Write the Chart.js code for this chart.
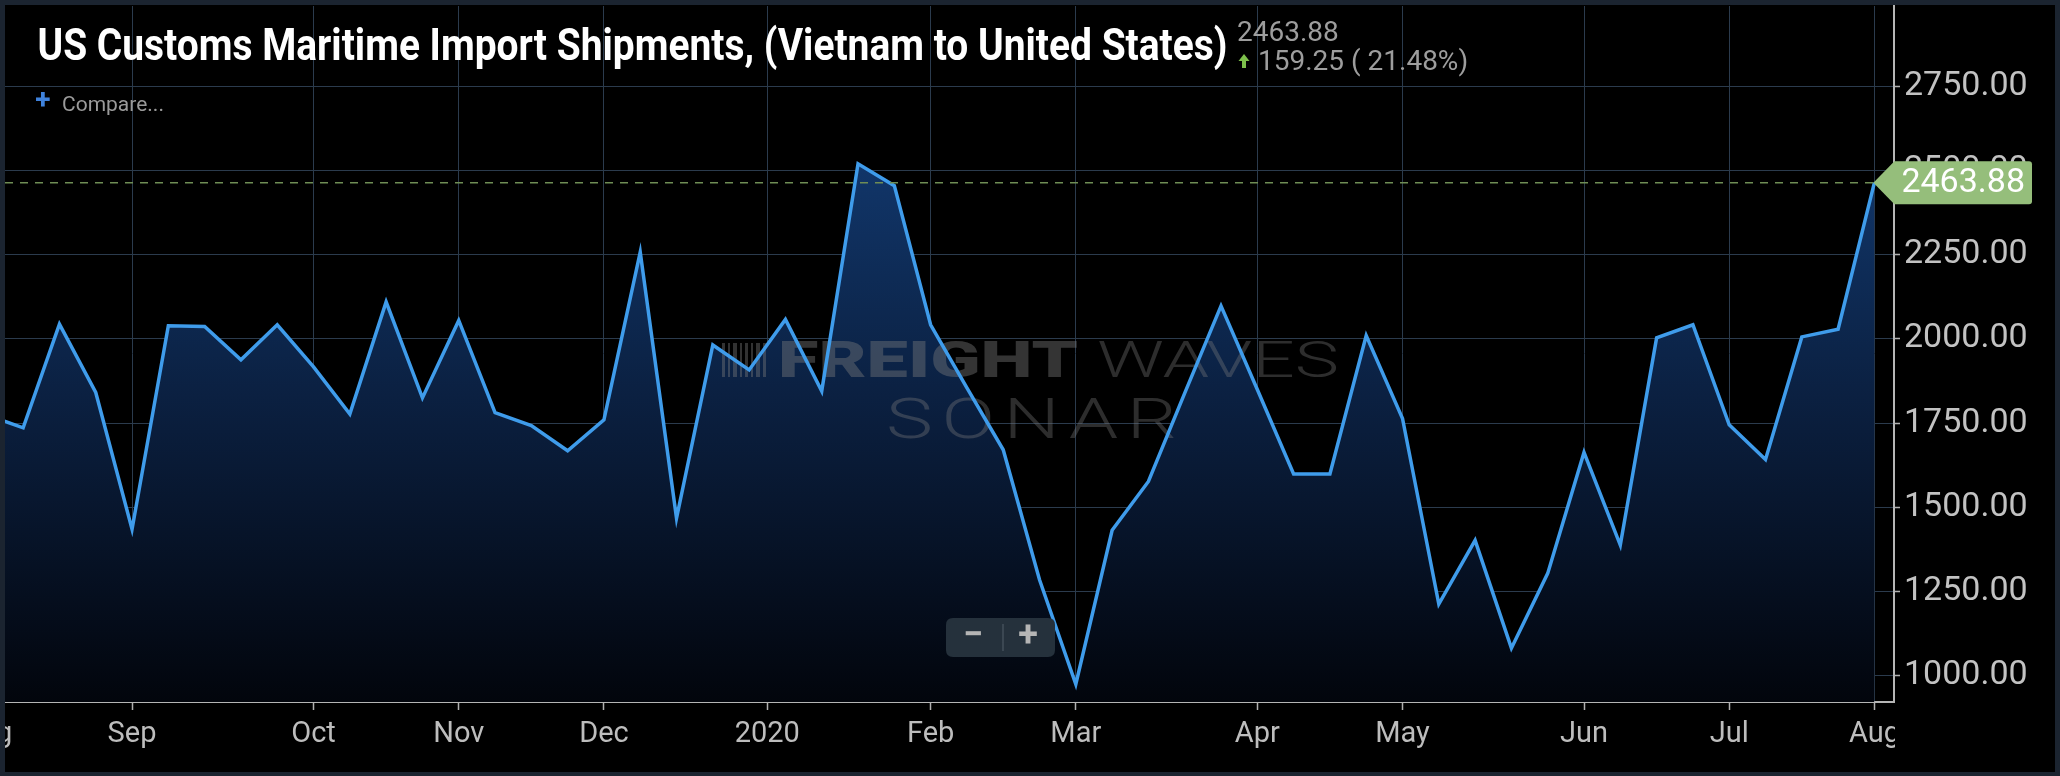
<!DOCTYPE html>
<html><head><meta charset="utf-8">
<script src="https://cdn.jsdelivr.net/npm/chart.js@4.4.0/dist/chart.umd.min.js"></script>
<style>
html,body{margin:0;padding:0;background:#1b2430;width:2060px;height:776px;overflow:hidden}
#panel{position:absolute;left:5px;top:5px;width:2050px;height:767px;background:#000}
canvas{display:block}
</style></head><body>
<div id="panel"><canvas id="c" width="2050" height="767"></canvas></div>
<script>
// ---- data ----
const weekIndex = [-1,0,1,2,3,4,5,6,7,8,9,10,11,12,13,14,15,16,17,18,19,20,21,22,23,24,25,26,27,28,29,30,31,32,33,34,35,36,37,38,39,40,41,42,43,44,45,46,47,48,49,50,51];
const shipments = [1774,1736,2044,1841,1435,2039,2037,1938,2042,1917,1777,2110,1825,2055,1781,1743,1668,1760,2258,1468,1982,1908,2058,1845,2520,2455,2042,1855,1671,1285,975,1432,1577,1839,2098,1850,1599,1599,2010,1764,1213,1402,1082,1304,1663,1388,2003,2042,1745,1642,2006,2029,2463.88];
const monthTickPos = [-1,3,8,12,16,20.5,25,29,34,38,43,47,51];
const monthTickLabels = ['Aug','Sep','Oct','Nov','Dec','2020','Feb','Mar','Apr','May','Jun','Jul','Aug'];
const yTicks = [1000,1250,1500,1750,2000,2250,2500,2750];
const titleText = 'US Customs Maritime Import Shipments, (Vietnam to United States)';
const lastValueText = '2463.88';
const changeText = '159.25 ( 21.48%)';

const points = weekIndex.map((w,i)=>({x:w, y:shipments[i]}));
const lastIdx = weekIndex[weekIndex.length-1];
const lastVal = shipments[shipments.length-1];

function fitText(ctx, txt, x, y, w){
  const m = ctx.measureText(txt).width;
  ctx.save(); ctx.translate(x,y); ctx.scale(w/m,1); ctx.fillText(txt,0,0); ctx.restore();
}
function rr(ctx,x,y,w,h,r){
  ctx.beginPath();ctx.moveTo(x+r,y);ctx.lineTo(x+w-r,y);ctx.quadraticCurveTo(x+w,y,x+w,y+r);
  ctx.lineTo(x+w,y+h-r);ctx.quadraticCurveTo(x+w,y+h,x+w-r,y+h);ctx.lineTo(x+r,y+h);
  ctx.quadraticCurveTo(x,y+h,x,y+h-r);ctx.lineTo(x,y+r);ctx.quadraticCurveTo(x,y,x+r,y);ctx.closePath();
}

const overlay = {
  id:'overlay',
  beforeDatasetDraw(chart){
    // watermark (after fill, before line)
    const ctx = chart.ctx; ctx.save();
    ctx.textBaseline='alphabetic'; ctx.textAlign='left';
    ctx.fillStyle='rgba(125,125,125,0.42)';
    ctx.font='900 50px Roboto';
    fitText(ctx,'FREIGHT',773,372,300);
    ctx.fillStyle='rgba(125,125,125,0.36)';
    ctx.font='300 50px Roboto';
    fitText(ctx,'WAVES',1092,372,242);
    ctx.letterSpacing='6px';
    ctx.font='300 56px Roboto';
    const sw = ctx.measureText('SONAR').width - 6;
    ctx.save(); ctx.translate(881,433); ctx.scale(291/sw,1); ctx.fillText('SONAR',0,0); ctx.restore();
    ctx.letterSpacing='0px';
    ctx.fillStyle='rgba(125,125,125,0.4)';
    const bars=[[717,3],[723,2],[728,4],[735,2],[740,3],[746,2],[751,4],[758,3]];
    bars.forEach(b=>ctx.fillRect(b[0],338,b[1],34));
    ctx.restore();
  },
  afterDatasetsDraw(chart){
    const ctx=chart.ctx, xs=chart.scales.x, ys=chart.scales.y, a=chart.chartArea;
    const py=ys.getPixelForValue(lastVal), px=xs.getPixelForValue(lastIdx);
    ctx.save();
    ctx.strokeStyle='#6f8d55'; ctx.lineWidth=1.5; ctx.setLineDash([8,7]);
    ctx.beginPath(); ctx.moveTo(a.left,py); ctx.lineTo(px,py); ctx.stroke();
    ctx.restore();
  },
  afterDraw(chart){
    const ctx=chart.ctx, xs=chart.scales.x, ys=chart.scales.y, a=chart.chartArea;
    ctx.save();
    // clip x label beyond plot right
    ctx.fillStyle='#000'; ctx.fillRect(a.right+1,a.bottom+10,chart.width-a.right,chart.height-a.bottom);
    // badge
    const py=ys.getPixelForValue(lastVal), px=xs.getPixelForValue(lastIdx);
    ctx.fillStyle='#95be7b';
    ctx.beginPath();
    ctx.moveTo(px-1,py); ctx.lineTo(px+20,py-21.5); ctx.lineTo(2024,py-21.5);
    ctx.quadraticCurveTo(2027,py-21.5,2027,py-18.5); ctx.lineTo(2027,py+18.5);
    ctx.quadraticCurveTo(2027,py+21.5,2024,py+21.5); ctx.lineTo(px+20,py+21.5); ctx.closePath(); ctx.fill();
    ctx.fillStyle='#ffffff'; ctx.font='34px Roboto'; ctx.textBaseline='middle'; ctx.textAlign='left';
    ctx.fillText(lastValueText, px+27, py+1);
    // title
    ctx.textBaseline='alphabetic';
    ctx.fillStyle='#ffffff'; ctx.font='bold 45px Roboto';
    fitText(ctx,titleText,32.5,55,1190);
    // values
    ctx.fillStyle='#9d9d9d'; ctx.font='28px Roboto';
    ctx.fillText(lastValueText,1232,36);
    ctx.fillText(changeText,1253,65);
    ctx.fillStyle='#7dc04b';
    ctx.beginPath(); ctx.moveTo(1239,49); ctx.lineTo(1244.5,56); ctx.lineTo(1233.5,56); ctx.closePath(); ctx.fill();
    ctx.fillRect(1237,56,4,7);
    // compare
    ctx.fillStyle='#3f82dc'; ctx.font='bold 28px Roboto'; ctx.textAlign='center'; ctx.textBaseline='middle';
    ctx.fillText('+',38,97);
    ctx.fillStyle='#9a9a9a'; ctx.font='21px Roboto'; ctx.textAlign='left'; ctx.textBaseline='alphabetic';
    ctx.fillText('Compare...',57,106);
    // zoom buttons
    ctx.fillStyle='#25313c'; rr(ctx,941,613,109,39,7); ctx.fill();
    ctx.fillStyle='#3b4752'; ctx.fillRect(997,619,2,27);
    ctx.fillStyle='#b5b5b5'; ctx.font='bold 36px Roboto'; ctx.textAlign='center'; ctx.textBaseline='middle';
    ctx.fillText('\u2212',968,632);
    ctx.fillText('+',1023,632);
    ctx.restore();
  }
};

new Chart(document.getElementById('c'), {
  type:'line',
  data:{datasets:[{
    data:points,
    borderColor:'#3f9ceb', borderWidth:3.5, pointRadius:0, tension:0,
    fill:'start',
    backgroundColor:(c)=>{
      const a=c.chart.chartArea; if(!a) return 'rgba(0,0,0,0)';
      const g=c.chart.ctx.createLinearGradient(0,155,0,a.bottom);
      g.addColorStop(0,'#11366a'); g.addColorStop(0.5,'#0a1d3b'); g.addColorStop(1,'#02050c');
      return g;
    }
  }]},
  options:{
    responsive:false, animation:false, devicePixelRatio:1,
    layout:{padding:{top:1,left:0,right:0,bottom:0}},
    plugins:{legend:{display:false}, tooltip:{enabled:false}},
    scales:{
      x:{type:'linear', min:-0.5, max:51.54,
        afterBuildTicks:s=>{ s.ticks = monthTickPos.map(v=>({value:v})); },
        afterFit:s=>{ s.height=70; s.paddingLeft=0; s.paddingRight=0; },
        ticks:{autoSkip:false, maxRotation:0, minRotation:0, padding:7, color:'#bdbdbd',
          font:{family:'Roboto', size:29}, callback:(v,i)=>monthTickLabels[i]},
        grid:{color:'#2b3b4d', lineWidth:1, tickLength:8, tickColor:'#b0b0b0', tickWidth:1.5},
        border:{display:true, color:'#b5b5b5', width:2}
      },
      y:{position:'right', min:922.2, max:2988.3,
        afterBuildTicks:s=>{ s.ticks = yTicks.map(v=>({value:v})); },
        afterFit:s=>{ s.width=161; s.paddingTop=0; s.paddingBottom=0; },
        ticks:{color:'#c2c2c2', font:{family:'Roboto', size:34}, padding:4, callback:v=>Number(v).toFixed(2)},
        grid:{color:'#2b3b4d', lineWidth:1, tickLength:6, tickColor:'#b0b0b0', tickWidth:1.5},
        border:{display:true, color:'#b5b5b5', width:2}
      }
    }
  },
  plugins:[overlay]
});
</script>
</body></html>
